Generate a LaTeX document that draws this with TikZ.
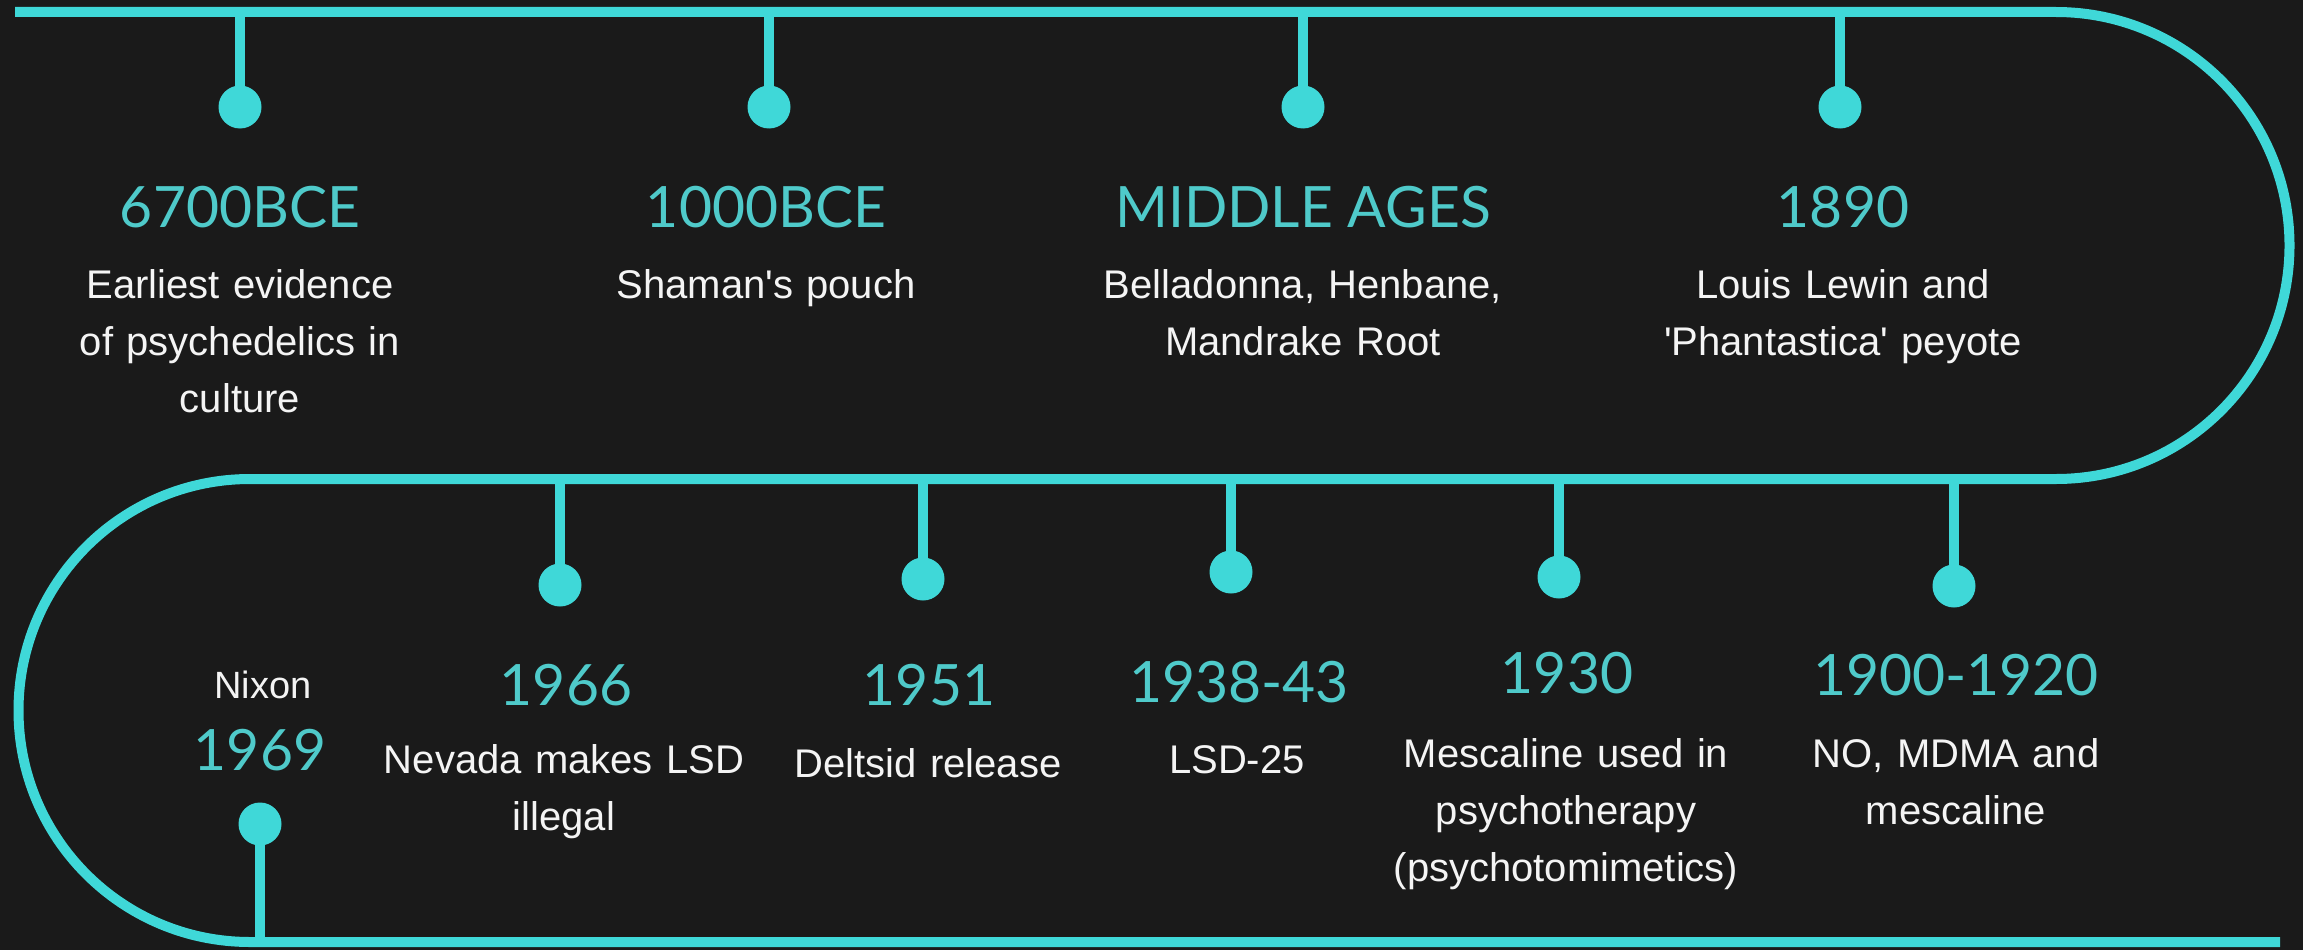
\documentclass[tikz,border=0pt]{standalone}
\usepackage{fontspec}
\setmainfont{Liberation Sans}[Ligatures=TeXOff]
\newfontfamily\headfont{Lato}
\definecolor{bg}{HTML}{1A1A1A}
\definecolor{lineteal}{HTML}{3FD8D8}
\definecolor{headteal}{HTML}{4FCACA}
\definecolor{txtwhite}{HTML}{F4F4F4}
\tikzset{
  track/.style={draw=lineteal, line width=10pt},
  stem/.style={draw=lineteal, line width=10pt},
  dot/.style={circle, fill=lineteal, minimum size=43pt, inner sep=0pt},
  head/.style={anchor=base, inner sep=0pt, text=headteal, font=\headfont\fontsize{57}{57}\selectfont},
  desc/.style={anchor=base, inner sep=0pt, text=txtwhite, align=center, text width=500pt,
    font=\fontsize{40}{57}\selectfont},
}
\begin{document}
\begin{tikzpicture}[x=1pt,y=-1pt]
\fill[bg] (0,0) rectangle (2303,950);
\useasboundingbox (0,0) rectangle (2303,950);
% serpentine track
\draw[track] (15,12) -- (2056,12) arc[start angle=-90, end angle=90, radius=233.5]
  -- (250,479) arc[start angle=-90, end angle=-270, radius=231.5] -- (2280,942);
% top row
\coordinate (t1) at (240,12);  \node[dot] (d1) at (240,107) {};
\coordinate (t2) at (769,12);  \node[dot] (d2) at (769,107) {};
\coordinate (t3) at (1303,12); \node[dot] (d3) at (1303,107) {};
\coordinate (t4) at (1840,12); \node[dot] (d4) at (1840,107) {};
\foreach \i in {1,...,4} \draw[stem] (t\i) -- (d\i.center);
\node[head] (h1) at (240,227) {6700BCE};
\node[head] (h2) at (766,227) {1000BCE};
\node[head] (h3) at (1303,227) {MIDDLE AGES};
\node[head] (h4) at (1843,227) {1890};
\node[desc] (x1) at (240,298) {Earliest evidence\\of psychedelics in\\culture};
\node[desc] (x2) at (766,298) {Shaman's pouch};
\node[desc] (x3) at (1303,298) {Belladonna, Henbane,\\Mandrake Root};
\node[desc] (x4) at (1843,298) {Louis Lewin and\\'Phantastica' peyote};
% bottom row
\coordinate (m1) at (560,479);  \node[dot] (e1) at (560,585) {};
\coordinate (m2) at (923,479);  \node[dot] (e2) at (923,579) {};
\coordinate (m3) at (1231,479); \node[dot] (e3) at (1231,572) {};
\coordinate (m4) at (1559,479); \node[dot] (e4) at (1559,577) {};
\coordinate (m5) at (1954,479); \node[dot] (e5) at (1954,586) {};
\foreach \i in {1,...,5} \draw[stem] (m\i) -- (e\i.center);
\coordinate (b0) at (260,942); \node[dot] (e0) at (260,824) {};
\draw[stem] (b0) -- (e0.center);
\node[anchor=base, inner sep=0pt, text=txtwhite, font=\fontsize{38}{38}\selectfont] (nx) at (263,698) {Nixon};
\node[head] (g0) at (260,770) {1969};
\node[head] (g1) at (566,705) {1966};
\node[head] (g2) at (929,705) {1951};
\node[head] (g3) at (1239,702) {1938-43};
\node[head] (g4) at (1567,693) {1930};
\node[head] (g5) at (1956,695) {1900-1920};
\node[desc] (y1) at (564,773) {Nevada makes LSD\\illegal};
\node[desc] (y2) at (928,777) {Deltsid release};
\node[desc] (y3) at (1237,773) {LSD-25};
\node[desc] (y4) at (1566,767) {Mescaline used in\\psychotherapy\\(psychotomimetics)};
\node[desc] (y5) at (1956,767) {NO, MDMA and\\mescaline};
\end{tikzpicture}
\end{document}
